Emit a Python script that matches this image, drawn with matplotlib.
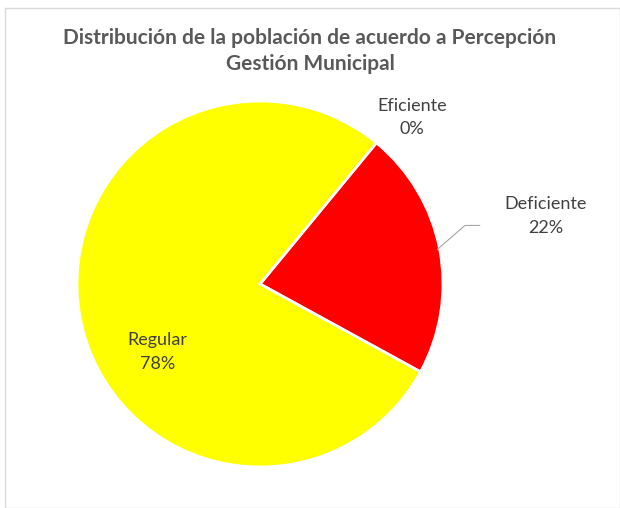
import matplotlib
matplotlib.use("Agg")
import matplotlib.pyplot as plt
from matplotlib.patches import Rectangle

categories = ["Eficiente", "Deficiente", "Regular"]
values = [0, 22, 78]
colors = ["#70AD47", "#FF0000", "#FFFF00"]

plt.rcParams['font.family'] = ['Lato', 'DejaVu Sans']

W, H = 620, 508
fig = plt.figure(figsize=(W / 100, H / 100), dpi=100)

# light frame
fig.patches.append(Rectangle((5 / W, 0), (W - 5) / W, (H - 8) / H, transform=fig.transFigure,
                             fill=False, edgecolor="#D9D9D9", linewidth=1.0))

cx, cy, r = 260, 284, 183
ax = fig.add_axes([(cx - r) / W, (H - cy - r) / H, 2 * r / W, 2 * r / H])
ax.pie(values, colors=colors, startangle=50.5, counterclock=False, radius=1.0,
       wedgeprops=dict(edgecolor="white", linewidth=2))
ax.set_xlim(-1, 1)
ax.set_ylim(-1, 1)
ax.set_aspect("equal")
ax.axis("off")

label_pos = {"Eficiente": (0.83, 0.91), "Deficiente": (1.56, 0.37), "Regular": (-0.56, -0.37)}
for cat, val in zip(categories, values):
    x, y = label_pos[cat]
    ax.text(x, y, f"{cat}\n{val}%", ha="center", va="center", fontsize=13,
            color="#404040", linespacing=1.6, clip_on=False)

# leader line for Deficiente
ax.plot([0.97, 1.12, 1.2], [0.19, 0.32, 0.32], color="#A6A6A6", linewidth=0.8, clip_on=False)

fig.text(0.5, (H - 51) / H, "Distribución de la población de acuerdo a Percepción\nGestión Municipal",
         ha="center", va="center", fontsize=15, fontweight="bold", color="#595959", linespacing=1.38)

fig.savefig("out.png", dpi=100, facecolor="white")
